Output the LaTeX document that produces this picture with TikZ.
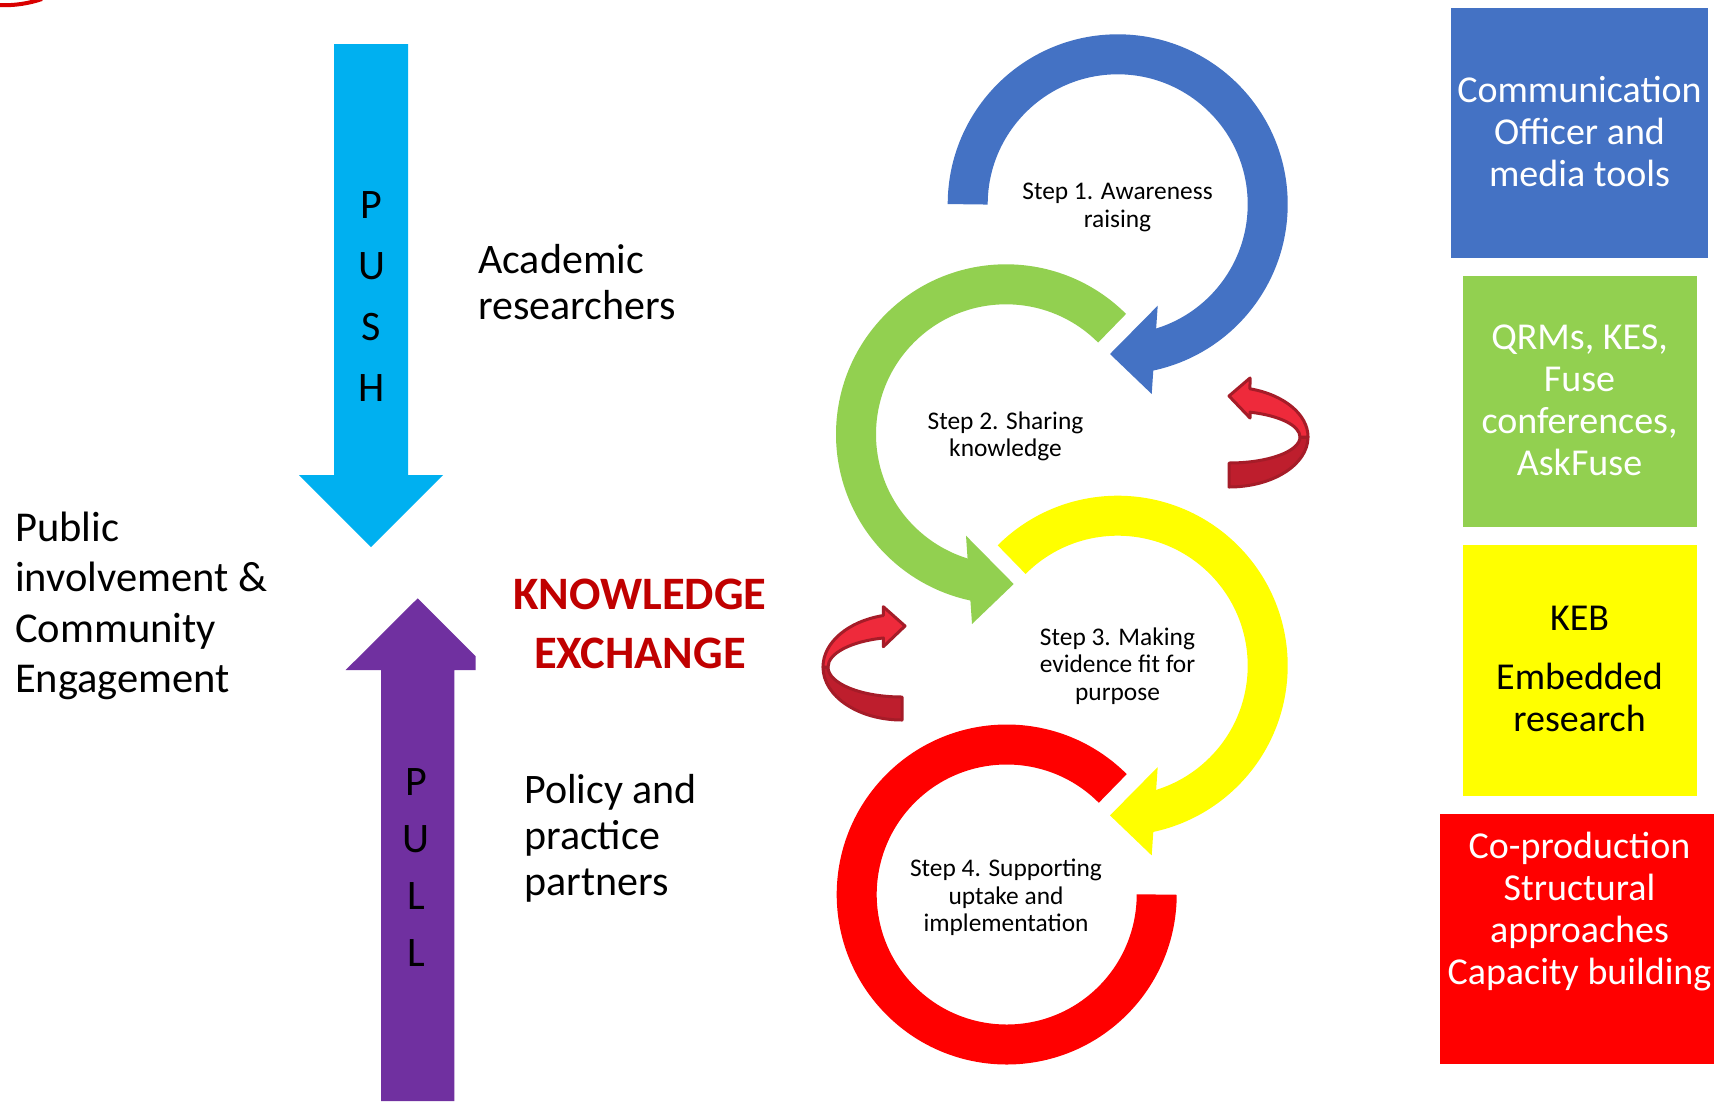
\documentclass[tikz,border=0pt]{standalone}
\usepackage{fontspec}
\setmainfont{Carlito}
\usetikzlibrary{calc}
\definecolor{kblue}{HTML}{4472C4}
\definecolor{kgreen}{HTML}{92D050}
\definecolor{kyellow}{HTML}{FFFF00}
\definecolor{kred}{HTML}{FF0000}
\definecolor{kcyan}{HTML}{00B0F0}
\definecolor{kpurple}{HTML}{7030A0}
\definecolor{kdark}{HTML}{C00000}
\definecolor{clight}{HTML}{EE2A3B}
\definecolor{cdark}{HTML}{BE1E2D}
\definecolor{cline}{HTML}{A51C28}
\tikzset{
  bigtxt/.style={font=\fontsize{42}{46}\selectfont, inner sep=0pt, align=left, anchor=base west},
  ketxt/.style={font=\fontsize{46.5}{59}\selectfont\bfseries, text=kdark, inner sep=0pt, align=center, anchor=base},
  steptxt/.style={font=\fontsize{25.4}{27.6}\selectfont, inner sep=0pt, align=center, anchor=base},
  boxtxt/.style={font=\fontsize{38}{41.8}\selectfont, inner sep=0pt, align=center, anchor=base},
  lettr/.style={inner sep=0pt, align=center, anchor=base},
  panel/.style={inner sep=0pt, outer sep=0pt, draw=none},
  ring/.style={line width=40pt},
  curvlight/.style={fill=clight, draw=cline, line width=3pt, line join=round},
  curvdark/.style={fill=cdark, draw=cline, line width=3pt, line join=round}
}
\begin{document}
\begin{tikzpicture}[x=1pt,y=1pt]
\useasboundingbox (0,0) rectangle (1714,-1101);
\fill[white] (0,0) rectangle (1714,-1101);

% small red mark at the top-left corner
\draw[color=kred!85!black, line width=4pt] (-2,-5) .. controls (15,-6) and (30,-3) .. (42,1);

% PUSH arrow (multi-line nodes are placed by the baseline of their last line)
\fill[kcyan] (334,-44) -- (408,-44) -- (408,-475) -- (443,-475) -- (371,-547) -- (299,-475) -- (334,-475) -- cycle;
\node[lettr, font=\fontsize{42}{61.2}\selectfont] (push) at (371.5,-401.6) {P\\U\\S\\H};

% PULL arrow
\fill[kpurple] (381,-1101) -- (381,-670) -- (345.7,-670) -- (417.7,-598.3) -- (475.7,-656.3) -- (475.7,-670) -- (454.3,-670) -- (454.3,-1101) -- cycle;
\node[lettr, font=\fontsize{42}{57.3}\selectfont] (pull) at (416,-966.9) {P\\U\\L\\L};

% left texts
\node[bigtxt, font=\fontsize{42}{45.3}\selectfont] (acad) at (478,-319) {Academic\\researchers};
\node[bigtxt, font=\fontsize{42.5}{50.5}\selectfont] (public) at (15,-692.5) {Public\\involvement \&\\Community\\Engagement};
\node[bigtxt] (policy) at (524,-895.3) {Policy and\\practice\\partners};
\node[ketxt] (ke) at (640,-668.3) {KNOWLEDGE\\EXCHANGE};

% circle centres
\coordinate (B) at (1117.7,-204.3);
\coordinate (G) at (1006,-434.3);
\coordinate (Y) at (1117.7,-665.7);
\coordinate (R) at (1006.7,-894.5);

% step 1 (blue)
\draw[ring, kblue] (B) ++(180:150pt) arc[start angle=180, end angle=-80, radius=150pt];
\fill[kblue] ($(B)+(40,-101.4)$) -- ($(B)+(-7.7,-149.7)$) -- ($(B)+(34,-189.7)$) -- cycle;
% step 2 (green)
\draw[ring, kgreen] (G) ++(45:150pt) arc[start angle=45, end angle=260, radius=150pt];
\fill[kgreen] ($(G)+(-40,-101.4)$) -- ($(G)+(7.7,-149.7)$) -- ($(G)+(-34,-189.7)$) -- cycle;
% step 3 (yellow)
\draw[ring, kyellow] (Y) ++(135:150pt) arc[start angle=135, end angle=-80, radius=150pt];
\fill[kyellow] ($(Y)+(40,-101.4)$) -- ($(Y)+(-7.7,-149.7)$) -- ($(Y)+(34,-189.7)$) -- cycle;
% step 4 (red)
\draw[ring, kred] (R) ++(45:150pt) arc[start angle=45, end angle=360, radius=150pt];

\node[steptxt] (s1) at (1117.5,-227.2) {Step 1. Awareness\\raising};
\node[steptxt] (s2) at (1005.5,-456.8) {Step 2. Sharing\\knowledge};
\node[steptxt] (s3) at (1117.5,-700.5) {Step 3. Making\\evidence fit for\\purpose};
\node[steptxt] (s4) at (1006,-931.8) {Step 4. Supporting\\uptake and\\implementation};

% curved arrow, right
\coordinate (CR) at (1229,-437);
\draw[curvdark] ($(CR)+(79,0)$) arc[start angle=0, end angle=-90, x radius=79pt, y radius=50pt]
   -- ($(CR)+(0,-26)$) arc[start angle=-90, end angle=0, x radius=71pt, y radius=26pt] -- cycle;
\draw[curvlight] (CR) ++(74.6:79pt and 50pt) arc[start angle=74.6, end angle=0, x radius=79pt, y radius=50pt]
   -- ($(CR)+(71,0)$) arc[start angle=0, end angle=72.8, x radius=71pt, y radius=26pt]
   -- (1250,-418) -- (1229,-396) -- (1250,-378) -- cycle;

% curved arrow, left
\coordinate (CL) at (902,-667);
\draw[curvdark] ($(CL)+(-79,0)$) arc[start angle=180, end angle=270, x radius=79pt, y radius=53pt]
   -- ($(CL)+(0,-30)$) arc[start angle=270, end angle=180, x radius=74pt, y radius=30pt] -- cycle;
\draw[curvlight] (CL) ++(103.7:79pt and 53pt) arc[start angle=103.7, end angle=180, x radius=79pt, y radius=53pt]
   -- ($(CL)+(-74,0)$) arc[start angle=180, end angle=104.6, x radius=74pt, y radius=30pt]
   -- (883.3,-646.7) -- (905,-626) -- (883.3,-606.7) -- cycle;

% right-hand boxes
\fill[kblue] (1451,-7.5) rectangle (1708,-258);
\node[panel, minimum width=257pt, minimum height=250.5pt] (bluebox) at (1579.5,-132.75) {};
\fill[kgreen] (1462.5,-276) rectangle (1696.5,-527);
\node[panel, minimum width=234pt, minimum height=251pt] (greenbox) at (1579.5,-401.5) {};
\fill[kyellow] (1462.5,-545) rectangle (1696.5,-796);
\node[panel, minimum width=234pt, minimum height=251pt] (yellowbox) at (1579.5,-670.5) {};
\fill[kred] (1440,-814) rectangle (1714,-1064);
\node[panel, minimum width=274pt, minimum height=250pt] (redbox) at (1577,-939) {};

\node[boxtxt, text=white] (t1) at (1579.5,-186) {Communication\\Officer and\\media tools};
\node[boxtxt, text=white] (t2) at (1579.5,-475) {QRMs, KES,\\Fuse\\conferences,\\AskFuse};
\node[boxtxt, text=black] (t3) at (1579.5,-731) {KEB\\[17pt]Embedded\\research};
\node[boxtxt, text=white] (t4) at (1579.5,-984) {Co-production\\Structural\\approaches\\Capacity building};
\end{tikzpicture}
\end{document}
